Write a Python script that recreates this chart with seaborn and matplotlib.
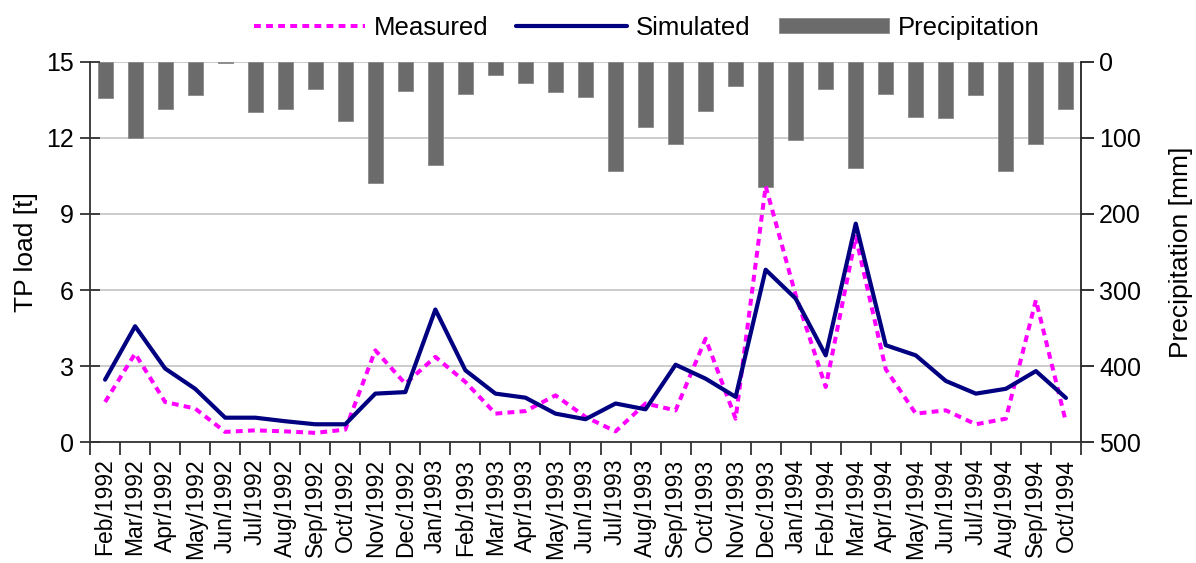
import numpy as np
import pandas as pd
import matplotlib
matplotlib.use("Agg")
import matplotlib.pyplot as plt
from matplotlib.ticker import FixedLocator, MultipleLocator
import seaborn as sns

months = ["Feb/1992", "Mar/1992", "Apr/1992", "May/1992", "Jun/1992", "Jul/1992",
          "Aug/1992", "Sep/1992", "Oct/1992", "Nov/1992", "Dec/1992", "Jan/1993",
          "Feb/1993", "Mar/1993", "Apr/1993", "May/1993", "Jun/1993", "Jul/1993",
          "Aug/1993", "Sep/1993", "Oct/1993", "Nov/1993", "Dec/1993", "Jan/1994",
          "Feb/1994", "Mar/1994", "Apr/1994", "May/1994", "Jun/1994", "Jul/1994",
          "Aug/1994", "Sep/1994", "Oct/1994"]

measured = [1.58, 3.49, 1.58, 1.32, 0.40, 0.46, 0.42, 0.36, 0.49, 3.62, 2.30, 3.36,
            2.37, 1.12, 1.22, 1.84, 0.99, 0.42, 1.52, 1.25, 4.08, 0.92, 10.1, 5.8,
            2.17, 8.1, 2.87, 1.12, 1.25, 0.70, 0.92, 5.6, 0.79]

simulated = [2.46, 4.57, 2.90, 2.10, 0.96, 0.96, 0.82, 0.70, 0.70, 1.91, 1.97, 5.23,
             2.83, 1.91, 1.75, 1.12, 0.90, 1.52, 1.29, 3.05, 2.50, 1.78, 6.80, 5.66,
             3.42, 8.62, 3.82, 3.42, 2.41, 1.91, 2.10, 2.80, 1.74]

precipitation = [48, 100, 62, 44, 1, 66, 62, 36, 78, 159, 38, 135,
                 42, 17, 28, 40, 46, 144, 86, 108, 64, 32, 165, 103,
                 36, 139, 42, 72, 74, 44, 143, 108, 62]

df = pd.DataFrame({"month": months, "pos": np.arange(len(months)),
                   "measured": measured, "simulated": simulated,
                   "precipitation": precipitation})

sns.set_theme(style="white")
plt.rcParams["font.family"] = ["Liberation Sans", "DejaVu Sans"]
plt.rcParams["text.color"] = "black"
plt.rcParams["axes.labelcolor"] = "black"
plt.rcParams["xtick.color"] = "black"
plt.rcParams["ytick.color"] = "black"

fig = plt.figure(figsize=(11.96, 5.63), dpi=100)
ax = fig.add_subplot(111)
fig.subplots_adjust(left=0.0753, right=0.9038, bottom=0.2149, top=0.8899)
ax2 = ax.twinx()

# precipitation bars hang from the top on the inverted right axis
sns.barplot(data=df, x="pos", y="precipitation", ax=ax2, color="#6b6b6b",
            width=0.5, saturation=1, label="Precipitation", native_scale=True,
            edgecolor="#8a8a8a", linewidth=0.6)
ax2.set_ylim(500, 0)
ax2.yaxis.set_major_locator(MultipleLocator(100))
ax2.grid(axis="y", color="#c4c4c4", linewidth=1.2)
ax2.grid(axis="x", visible=False)
ax2.set_axisbelow(True)

# measured and simulated loads on the left axis
sns.lineplot(data=df, x="pos", y="measured", ax=ax, color="#ff00ff",
             linewidth=2.9, linestyle=(0, (1.7, 1.3)), label="Measured")
sns.lineplot(data=df, x="pos", y="simulated", ax=ax, color="#000080",
             linewidth=3.0, label="Simulated")
ax.set_ylim(0, 15)
ax.yaxis.set_major_locator(MultipleLocator(3))
ax.grid(False)

ax.set_zorder(ax2.get_zorder() + 1)
ax.patch.set_visible(False)
ax2.patch.set_visible(True)
ax2.patch.set_facecolor("white")

n = len(months)
ax.set_xlim(-0.5, n - 0.5)
ax.xaxis.set_major_locator(FixedLocator(np.arange(n)))
ax.set_xticklabels(months, rotation=90)
ax.xaxis.set_minor_locator(FixedLocator(np.arange(n + 1) - 0.5))
ax.tick_params(axis="x", which="major", length=0, pad=12, labelsize=16.5,
               labelcolor="black")
ax.tick_params(axis="x", which="minor", length=9, width=1.3, color="#333333",
               direction="out", bottom=True)
ax.tick_params(axis="y", which="major", direction="inout", length=15, width=1.3,
               color="#333333", pad=4, labelsize=18, left=True, labelcolor="black")
ax2.tick_params(axis="y", which="major", direction="out", length=9, width=1.3,
                color="#222222", pad=4, labelsize=18, right=True, labelcolor="black")

ax.set_xlabel("")
ax.set_ylabel("TP load [t]", fontsize=19, labelpad=6, color="black")
ax2.set_xlabel("")
ax2.set_ylabel("Precipitation [mm]", fontsize=19, labelpad=20, color="black")

for s in ("top", "right"):
    ax.spines[s].set_visible(False)
for s in ("top", "left", "bottom"):
    ax2.spines[s].set_visible(False)
ax.spines["left"].set_color("#333333")
ax.spines["left"].set_linewidth(1.3)
ax.spines["bottom"].set_color("#333333")
ax.spines["bottom"].set_linewidth(1.3)
ax2.spines["right"].set_color("#222222")
ax2.spines["right"].set_linewidth(1.3)

h1, l1 = ax.get_legend_handles_labels()
h2, l2 = ax2.get_legend_handles_labels()
for lg in (ax.get_legend(), ax2.get_legend()):
    if lg is not None:
        lg.remove()
fig.legend(h1 + h2, l1 + l2, loc="center", bbox_to_anchor=(0.541, 0.951), ncol=3,
           frameon=False, fontsize=18.5, handlelength=4.3, handletextpad=0.35,
           columnspacing=1.1, handleheight=0.55)

fig.savefig("out.png", dpi=100, facecolor="white")
